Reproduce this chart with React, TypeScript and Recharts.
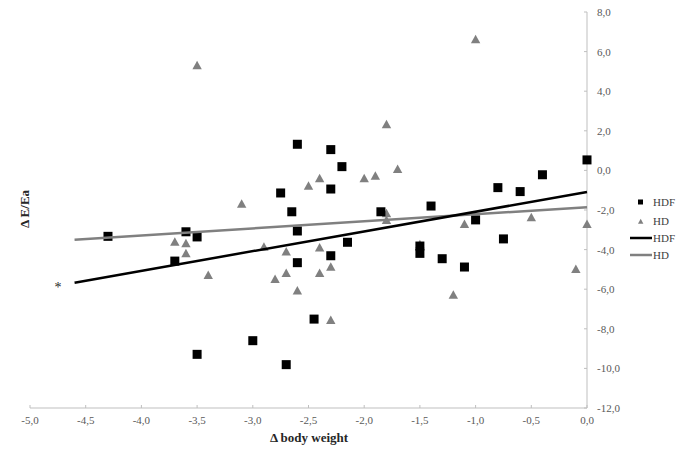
import { ScatterChart, Scatter, XAxis, YAxis } from "recharts";

// Δ body weight vs Δ E/Ea
const hdfPoints = [
  { x: -4.3, y: -3.33 },
  { x: -3.6, y: -3.1 },
  { x: -3.5, y: -3.36 },
  { x: -3.7, y: -4.58 },
  { x: -2.65, y: -2.09 },
  { x: -2.6, y: -3.06 },
  { x: -2.6, y: -4.66 },
  { x: -2.3, y: -4.31 },
  { x: -2.15, y: -3.63 },
  { x: -2.45, y: -7.51 },
  { x: -3.0, y: -8.6 },
  { x: -3.5, y: -9.29 },
  { x: -2.7, y: -9.81 },
  { x: -2.6, y: 1.32 },
  { x: -2.3, y: 1.05 },
  { x: -2.2, y: 0.19 },
  { x: -2.3, y: -0.94 },
  { x: -2.75, y: -1.14 },
  { x: -1.85, y: -2.09 },
  { x: -1.4, y: -1.8 },
  { x: -1.0, y: -2.5 },
  { x: -0.8, y: -0.87 },
  { x: -0.6, y: -1.07 },
  { x: -0.4, y: -0.22 },
  { x: 0, y: 0.53 },
  { x: -1.5, y: -3.82 },
  { x: -1.5, y: -4.19 },
  { x: -1.3, y: -4.46 },
  { x: -1.1, y: -4.88 },
  { x: -0.75, y: -3.46 },
];

const hdPoints = [
  { x: -3.5, y: 5.31 },
  { x: -3.1, y: -1.68 },
  { x: -2.5, y: -0.77 },
  { x: -2.4, y: -0.4 },
  { x: -2.0, y: -0.4 },
  { x: -1.9, y: -0.27 },
  { x: -1.8, y: 2.33 },
  { x: -1.7, y: 0.07 },
  { x: -1.0, y: 6.62 },
  { x: -1.8, y: -2.17 },
  { x: -1.8, y: -2.5 },
  { x: -1.1, y: -2.71 },
  { x: -0.5, y: -2.37 },
  { x: 0, y: -2.71 },
  { x: -1.5, y: -3.73 },
  { x: -1.2, y: -6.28 },
  { x: -0.1, y: -4.98 },
  { x: -2.3, y: -4.86 },
  { x: -2.3, y: -7.56 },
  { x: -3.7, y: -3.6 },
  { x: -3.6, y: -3.68 },
  { x: -3.6, y: -4.19 },
  { x: -3.4, y: -5.28 },
  { x: -2.9, y: -3.85 },
  { x: -2.7, y: -4.1 },
  { x: -2.4, y: -3.89 },
  { x: -2.7, y: -5.18 },
  { x: -2.4, y: -5.18 },
  { x: -2.8, y: -5.49 },
  { x: -2.6, y: -6.07 },
];

// linear trend lines (end points)
const hdfTrend = [
  { x: -4.6, y: -5.67 },
  { x: 0, y: -1.09 },
];
const hdTrend = [
  { x: -4.6, y: -3.5 },
  { x: 0, y: -1.86 },
];

const xTicks = [-5, -4.5, -4, -3.5, -3, -2.5, -2, -1.5, -1, -0.5, 0];
const yTicks = [-12, -10, -8, -6, -4, -2, 0, 2, 4, 6, 8];

const FONT = '"Liberation Serif", "Times New Roman", serif';
const AXIS = "#bfbfbf";
const TICK_TEXT = "#595959";
const GRAY = "#808080";

const fmt = (v: number) => v.toFixed(1).replace(".", ",");

const XTick = (props: any) => {
  const { x, y, payload } = props;
  return (
    <g>
      <line x1={x} x2={x} y1={y - 8} y2={y - 11} stroke={AXIS} />
      <text
        x={x}
        y={y}
        dy="0.71em"
        textAnchor="middle"
        fill={TICK_TEXT}
        fontSize={11}
        fontFamily={FONT}>
        {fmt(payload.value)}
      </text>
    </g>
  );
};

const YTick = (props: any) => {
  const { x, y, payload } = props;
  return (
    <g>
      <line x1={x - 13} x2={x - 10} y1={y} y2={y} stroke={AXIS} />
      <text
        x={x}
        y={y}
        dy="0.355em"
        textAnchor="start"
        fill={TICK_TEXT}
        fontSize={11}
        fontFamily={FONT}>
        {fmt(payload.value)}
      </text>
    </g>
  );
};

const SquareDot = (props: any) => {
  const { cx, cy } = props;
  if (cx == null || cy == null) return <g />;
  return <rect x={cx - 4.5} y={cy - 4.5} width={9} height={9} fill="#000" />;
};

const TriangleDot = (props: any) => {
  const { cx, cy } = props;
  if (cx == null || cy == null) return <g />;
  return (
    <polygon
      points={`${cx},${cy - 4.5} ${cx - 4.7},${cy + 4} ${cx + 4.7},${cy + 4}`}
      fill={GRAY}
    />
  );
};

const NoDot = () => <g />;

export default function App() {
  return (
    <div
      style={{
        position: "absolute",
        left: 0,
        top: 0,
        width: 685,
        height: 457,
        background: "#fff",
      }}>
      <ScatterChart
        width={685}
        height={457}
        margin={{ top: 12, right: 38, bottom: 19, left: 30 }}>
        <XAxis
          type="number"
          dataKey="x"
          domain={[-5, 0]}
          ticks={xTicks}
          interval={0}
          height={30}
          tickSize={0}
          tickMargin={8}
          tickLine={false}
          axisLine={{ stroke: AXIS }}
          tick={<XTick />}
        />
        <YAxis
          type="number"
          dataKey="y"
          orientation="right"
          domain={[-12, 8]}
          ticks={yTicks}
          interval={0}
          width={60}
          tickSize={0}
          tickMargin={10}
          tickLine={false}
          axisLine={{ stroke: AXIS }}
          tick={<YTick />}
        />
        <Scatter
          name="HD"
          data={hdPoints}
          shape={<TriangleDot />}
          isAnimationActive={false}
        />
        <Scatter
          name="HDF"
          data={hdfPoints}
          shape={<SquareDot />}
          isAnimationActive={false}
        />
        <Scatter
          name="HD trend"
          data={hdTrend}
          line={{ stroke: GRAY, strokeWidth: 2.5 }}
          shape={<NoDot />}
          isAnimationActive={false}
        />
        <Scatter
          name="HDF trend"
          data={hdfTrend}
          line={{ stroke: "#000", strokeWidth: 2.5 }}
          shape={<NoDot />}
          isAnimationActive={false}
        />
      </ScatterChart>

      <svg
        width={685}
        height={457}
        style={{ position: "absolute", left: 0, top: 0, pointerEvents: "none" }}>
        <text
          x={24}
          y={209}
          transform="rotate(-90, 24, 209)"
          textAnchor="middle"
          dy="0.35em"
          fontFamily={FONT}
          fontSize={13}
          fontWeight="bold"
          fill="#262626">
          Δ E/Ea
        </text>
        <text
          x={309}
          y={437}
          textAnchor="middle"
          dy="0.35em"
          fontFamily={FONT}
          fontSize={13}
          fontWeight="bold"
          fill="#262626">
          Δ body weight
        </text>
        <text
          x={58}
          y={292}
          textAnchor="middle"
          fontFamily={FONT}
          fontSize={14}
          fill="#262626">
          *
        </text>

        {/* legend */}
        <g fontFamily={FONT} fontSize={11} fill="#404040">
          <rect x={638} y={199.5} width={5} height={5} fill="#000" />
          <text x={653} y={202} dy="0.35em">HDF</text>
          <polygon points="640.7,218.8 638,223.8 643.4,223.8" fill={GRAY} />
          <text x={653} y={221} dy="0.35em">HD</text>
          <line x1={630} x2={652} y1={238} y2={238} stroke="#000" strokeWidth={2.5} />
          <text x={653} y={238} dy="0.35em">HDF</text>
          <line x1={630} x2={652} y1={255} y2={255} stroke={GRAY} strokeWidth={2.5} />
          <text x={653} y={255} dy="0.35em">HD</text>
        </g>
      </svg>
    </div>
  );
}
